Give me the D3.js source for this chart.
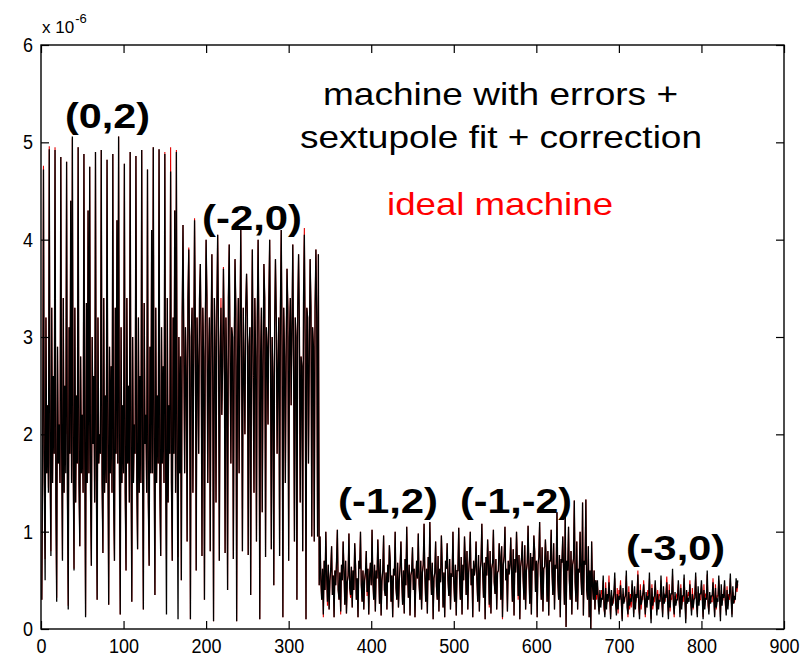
<!DOCTYPE html>
<html>
<head>
<meta charset="utf-8">
<script src="https://cdnjs.cloudflare.com/ajax/libs/d3/7.8.5/d3.min.js"></script>
<style>
  body { margin: 0; background: #fff; }
  text { font-family: "Liberation Sans", Arial, sans-serif; }
</style>
</head>
<body>
<script>
// values in units of 1e-6, one per element (x = element index 1..N)
// machine with errors + sextupole fit + correction
var errA = [
  0.3,1.8,4.72,1.5,0.5,3.2,1.6,
  2.3,1.4,4.93,1.7,0.75,3.3,1.5,
  2.6,1.8,4.92,1.3,0.28,2.9,1.7,
  2.1,1.5,4.85,1.9,0.7,3.4,1.4,
  2.5,1.6,4.8,1.4,0.2,3.1,1.8,
  4.4,1.5,5.06,1.7,0.6,3.3,1.3,
  2.4,1.7,4.95,1.5,0.85,2.8,1.6,
  2.2,1.4,4.88,1.8,0.12,3.35,1.5,
  4.3,1.6,4.75,1.4,0.65,3.0,1.9,
  2.6,1.3,4.9,1.6,0.3,3.2,1.7,
  2.0,1.8,4.92,1.5,0.78,3.4,1.4,
  2.4,1.5,4.82,1.9,0.25,2.9,1.6,
  2.7,1.4,4.88,1.3,0.7,3.3,1.8,
  4.2,1.7,5.06,1.6,0.15,3.1,1.5,
  2.3,1.6,4.78,1.4,0.6,3.4,1.7,
  2.5,1.3,4.9,1.8,0.28,3.0,1.5,
  2.1,1.8,4.86,1.5,0.82,3.2,1.4,
  2.6,1.5,4.92,1.7,0.2,3.35,1.9,
  2.2,1.4,4.72,1.3,0.65,2.9,1.6,
  4.1,1.6,4.95,1.8,0.35,3.3,1.5,
  2.4,1.7,4.93,1.4,0.75,3.1,1.7,
  2.7,1.5,4.88,1.6,0.15,3.4,1.3,
  2.3,1.8,4.7,1.5,0.7,3.2,1.8,
  4.3,1.4,4.9,1.7,0.1,3.0,1.6
];
var errB = [
  2.8,0.5,3.2,4.15,2.9,1.6,3.1,
  2.6,0.9,3.4,3.9,2.7,0.1,3.0,
  3.3,1.4,2.8,4.2,3.1,0.6,3.2,
  2.7,1.8,3.4,3.75,2.9,0.75,3.3,
  2.8,0.3,3.1,4.0,3.4,1.5,2.7,
  3.2,0.8,3.0,3.85,2.6,0.08,3.4,
  2.9,1.3,3.3,4.05,3.1,0.7,2.8,
  3.3,2.2,2.7,3.7,3.0,0.78,3.2,
  2.6,0.4,3.4,3.95,2.9,1.7,3.1,
  3.0,0.72,2.8,3.8,3.3,0.08,2.7,
  3.4,1.6,3.1,4.1,2.8,0.8,3.3,
  2.7,2.0,3.3,3.65,3.2,0.76,2.9,
  3.1,0.35,2.9,3.9,2.6,1.4,3.4,
  2.8,0.9,3.2,4.0,3.0,0.1,2.8,
  3.3,1.2,2.7,3.75,3.4,0.74,3.1,
  2.9,2.1,3.4,4.0,2.8,0.82,3.0,
  2.6,0.45,3.1,3.8,3.2,1.8,2.7,
  3.2,0.75,3.3,4.1,2.9,0.12,3.3,
  2.8,1.5,2.9,3.7,3.3,0.7,3.0,
  3.4,2.3,3.1,3.95,2.7,0.9,3.2,
  3.0,0.3,3.3,3.85,3.1,1.3,2.8,
  2.7,0.8,3.4,4.05,2.9,0.1,3.3,
  3.2,1.7,2.8,3.8,3.3,0.95,3.1,
  2.9,0.9,3.3,3.9,3.2,0.95,3.85
];
var errC = [
  0.45,0.95,0.5,0.3,0.62,0.15,0.7,
  0.4,1.0,0.55,0.28,0.66,0.2,0.5,
  0.62,0.85,0.35,0.55,0.12,0.6,0.45,
  0.7,1.02,0.4,0.3,0.58,0.18,0.66,
  0.5,0.9,0.6,0.25,0.7,0.16,0.48,
  0.55,0.98,0.42,0.35,0.64,0.22,0.6,
  0.4,0.88,0.66,0.3,0.52,0.12,0.7,
  0.62,1.0,0.45,0.28,0.6,0.2,0.5,
  0.58,0.8,0.38,0.62,0.15,0.55,0.68,
  0.45,1.02,0.5,0.3,0.66,0.18,0.6,
  0.52,0.92,0.62,0.26,0.72,0.14,0.5,
  0.6,0.96,0.4,0.34,0.58,0.2,0.66,
  0.48,0.86,0.7,0.28,0.55,0.12,0.62,
  0.55,1.0,0.42,0.3,0.68,0.22,0.5,
  0.65,0.9,0.5,0.25,0.6,0.16,0.72,
  0.45,1.05,0.58,0.32,0.66,0.14,0.55,
  0.6,0.84,0.4,0.62,0.12,0.5,0.7,
  0.52,0.98,0.46,0.3,0.7,0.2,0.58,
  0.66,1.08,0.55,0.28,0.62,0.16,0.74,
  0.5,1.1,0.6,0.35,0.68,0.1,0.52,
  0.58,0.9,0.44,0.3,0.75,0.18,0.62,
  0.48,0.96,0.66,0.22,0.58,0.12,0.7,
  0.62,0.88,0.5,0.34,0.72,0.2,0.56,
  0.55,1.0,0.48,0.28,0.66,0.14,0.6
];
var errD = [
  0.6,1.04,0.52,0.3,0.74,0.15,0.66,
  0.5,0.95,0.7,0.35,0.8,0.2,0.58,
  0.72,1.0,0.45,0.62,0.12,0.7,0.55,
  0.64,0.9,0.5,0.28,0.76,0.18,0.6,
  0.7,1.08,0.58,0.32,0.68,0.1,0.74,
  0.55,0.92,0.66,0.25,0.8,0.16,0.62,
  0.68,1.02,0.48,0.36,0.72,0.2,0.58,
  0.6,0.88,0.74,0.3,0.85,0.12,0.66,
  0.75,1.05,0.5,0.62,0.18,0.7,0.56,
  0.66,0.94,0.58,0.28,0.82,0.14,0.72,
  0.58,1.0,0.7,0.34,0.76,0.1,0.64,
  0.72,0.9,0.52,0.3,0.86,0.2,0.6,
  0.68,1.06,0.62,0.26,0.78,0.15,0.74,
  0.6,0.96,0.8,0.38,0.7,0.12,0.66,
  0.74,1.1,0.55,0.3,0.84,0.18,0.62,
  0.64,0.92,0.7,0.28,0.8,0.14,0.7,
  0.7,1.02,0.58,0.35,0.88,0.2,0.66,
  0.62,1.2,0.5,0.3,0.76,0.12,0.72,
  0.68,0.95,0.6,0.25,1.22,0.02,0.7,
  0.6,1.05,0.5,0.3,0.8,0.15,0.66,
  0.72,1.32,0.48,0.28,0.9,0.2,0.62,
  0.58,1.0,0.55,0.35,1.3,0.14,0.7,
  0.66,1.33,0.4,0.3,0.85,0.12,0.6,
  0.0,0.9,0.45,0.3,0.6,0.2,0.5
];
var errE = [
  0.35,0.5,0.28,0.15,0.4,0.22,0.32,
  0.3,0.55,0.25,0.12,0.42,0.2,0.36,
  0.28,0.48,0.34,0.1,0.4,0.24,0.3,
  0.38,0.58,0.26,0.14,0.36,0.2,0.34,
  0.3,0.45,0.3,0.08,0.42,0.26,0.32,
  0.34,0.6,0.22,0.15,0.38,0.24,0.3,
  0.28,0.5,0.33,0.12,0.44,0.2,0.36,
  0.32,0.56,0.28,0.1,0.4,0.25,0.3,
  0.36,0.46,0.3,0.15,0.38,0.22,0.34,
  0.3,0.58,0.26,0.06,0.42,0.24,0.32,
  0.34,0.5,0.3,0.14,0.36,0.2,0.3,
  0.28,0.55,0.32,0.12,0.44,0.26,0.34,
  0.32,0.48,0.28,0.1,0.4,0.22,0.36,
  0.36,0.62,0.25,0.15,0.38,0.24,0.3,
  0.3,0.5,0.33,0.12,0.42,0.2,0.34,
  0.34,0.56,0.28,0.06,0.4,0.26,0.32,
  0.28,0.46,0.3,0.14,0.36,0.22,0.3,
  0.32,0.58,0.26,0.12,0.44,0.24,0.36,
  0.36,0.5,0.32,0.1,0.4,0.2,0.32,
  0.3,0.6,0.28,0.15,0.38,0.26,0.34,
  0.34,0.48,0.3,0.12,0.42,0.22,0.3,
  0.28,0.55,0.34,0.08,0.46,0.24,0.36,
  0.32,0.5,0.28,0.14,0.4,0.2,0.32,
  0.36,0.57,0.3,0.12,0.44,0.26,0.34,
  0.3,0.52,0.42,0.5
];

// ideal machine
var idealA = [
  0.3,1.8,4.76,1.5,0.72,3.2,1.6,
  2.3,1.45,4.96,1.7,0.8,3.3,1.5,
  2.6,1.8,4.95,1.3,0.32,2.9,1.7,
  2.1,1.5,4.85,1.9,0.72,3.4,1.4,
  2.5,2.0,4.8,1.4,0.24,3.1,1.8,
  4.4,1.5,5.04,1.7,0.62,3.3,1.3,
  2.4,1.7,4.95,1.5,0.85,2.8,1.6,
  2.2,1.4,4.88,1.8,0.14,3.35,1.5,
  4.3,1.6,4.75,1.4,0.65,3.0,1.9,
  2.6,1.3,4.9,1.6,0.3,3.2,1.7,
  2.0,1.8,4.92,1.5,0.78,3.4,1.4,
  2.4,1.5,4.82,1.9,0.25,2.9,1.6,
  2.7,1.4,4.88,1.3,0.7,3.3,1.8,
  4.2,1.7,5.06,1.6,0.15,3.1,1.5,
  2.3,1.6,4.78,1.4,0.6,3.4,1.7,
  2.5,1.3,4.9,1.8,0.28,3.0,1.5,
  2.1,1.8,4.86,1.5,0.82,3.2,1.4,
  2.6,1.5,4.92,1.7,0.2,3.35,1.9,
  2.2,1.4,4.72,1.3,0.65,2.9,1.6,
  4.1,1.6,4.95,1.8,0.35,3.3,1.5,
  2.4,1.7,4.93,1.4,0.75,3.1,1.7,
  2.7,1.5,4.9,1.6,0.72,3.4,1.3,
  2.3,1.8,4.95,1.5,0.7,3.2,1.8,
  4.3,1.4,4.92,1.7,0.74,3.0,1.6
];
var idealB = [
  2.8,0.5,3.2,4.15,2.9,1.6,3.1,
  2.6,0.9,3.4,3.92,2.7,0.1,3.0,
  3.3,1.4,2.8,4.22,3.1,0.6,3.2,
  2.7,1.8,3.4,3.75,2.9,0.75,3.3,
  2.8,0.3,3.1,4.0,3.4,1.5,2.7,
  3.2,0.8,3.0,3.85,2.6,0.08,3.4,
  2.9,1.3,3.3,4.05,3.1,0.7,2.8,
  3.4,2.2,2.7,3.72,3.0,0.78,3.2,
  2.6,0.4,3.4,3.95,2.9,1.7,3.1,
  3.0,0.72,2.8,3.8,3.3,0.08,2.7,
  3.4,1.6,3.1,4.1,2.8,0.8,3.3,
  2.7,2.0,3.3,3.65,3.2,0.76,2.9,
  3.1,0.35,2.9,3.9,2.6,1.4,3.4,
  2.8,0.9,3.2,4.0,3.0,0.1,2.8,
  3.3,1.2,2.7,3.75,3.4,0.74,3.1,
  2.9,2.1,3.4,4.0,2.8,0.82,3.0,
  2.6,0.45,3.1,3.8,3.2,1.8,2.7,
  3.2,0.75,3.3,4.1,2.9,0.12,3.3,
  2.8,1.5,2.9,3.7,3.3,0.7,3.0,
  3.4,2.3,3.1,3.95,2.7,0.9,3.2,
  3.0,0.3,3.3,3.85,3.1,1.3,2.8,
  2.7,0.8,3.4,4.12,2.9,0.1,3.3,
  3.2,1.7,2.8,3.8,3.3,0.95,3.1,
  2.9,0.9,3.3,3.9,3.2,0.95,3.85
];
var idealC = [
  0.45,0.95,0.5,0.3,0.62,0.12,0.7,
  0.4,1.0,0.55,0.24,0.66,0.2,0.5,
  0.62,0.85,0.35,0.55,0.12,0.6,0.45,
  0.7,1.02,0.4,0.3,0.58,0.15,0.66,
  0.5,0.9,0.6,0.25,0.7,0.16,0.48,
  0.55,0.98,0.42,0.32,0.64,0.22,0.6,
  0.4,0.88,0.66,0.3,0.52,0.12,0.7,
  0.62,1.0,0.45,0.28,0.6,0.2,0.5,
  0.58,0.8,0.34,0.62,0.15,0.55,0.68,
  0.45,1.02,0.5,0.3,0.66,0.18,0.6,
  0.52,0.92,0.62,0.26,0.72,0.14,0.5,
  0.6,0.96,0.4,0.34,0.58,0.2,0.66,
  0.48,0.86,0.7,0.28,0.55,0.12,0.62,
  0.55,1.0,0.42,0.3,0.68,0.22,0.5,
  0.65,0.9,0.5,0.25,0.6,0.16,0.72,
  0.45,1.05,0.58,0.32,0.66,0.14,0.55,
  0.6,0.84,0.4,0.62,0.12,0.5,0.7,
  0.52,0.98,0.46,0.3,0.7,0.2,0.58,
  0.66,1.08,0.55,0.28,0.62,0.16,0.74,
  0.5,1.1,0.6,0.35,0.68,0.1,0.52,
  0.58,0.9,0.44,0.3,0.75,0.18,0.62,
  0.48,0.96,0.66,0.22,0.58,0.12,0.7,
  0.62,0.88,0.5,0.34,0.72,0.2,0.56,
  0.55,1.0,0.48,0.28,0.66,0.14,0.6
];
var idealD = [
  0.6,1.04,0.52,0.3,0.74,0.15,0.66,
  0.5,0.95,0.7,0.35,0.8,0.2,0.58,
  0.72,1.0,0.45,0.62,0.12,0.7,0.55,
  0.64,0.9,0.5,0.28,0.76,0.18,0.6,
  0.7,1.08,0.58,0.32,0.68,0.1,0.74,
  0.55,0.92,0.66,0.22,0.8,0.16,0.62,
  0.68,1.02,0.48,0.36,0.72,0.2,0.58,
  0.6,0.88,0.74,0.3,0.85,0.1,0.66,
  0.75,1.05,0.5,0.62,0.18,0.7,0.56,
  0.66,0.94,0.58,0.28,0.82,0.14,0.72,
  0.58,1.0,0.7,0.3,0.76,0.1,0.64,
  0.72,0.9,0.52,0.3,0.86,0.2,0.6,
  0.68,1.06,0.62,0.26,0.78,0.15,0.74,
  0.6,0.96,0.8,0.38,0.7,0.12,0.66,
  0.74,1.1,0.55,0.3,0.84,0.18,0.62,
  0.64,0.92,0.7,0.28,0.8,0.14,0.7,
  0.7,1.02,0.58,0.35,0.88,0.2,0.66,
  0.62,1.2,0.5,0.3,0.76,0.12,0.72,
  0.68,0.95,0.6,0.25,1.22,0.02,0.7,
  0.6,1.05,0.5,0.3,0.8,0.15,0.66,
  0.72,1.32,0.48,0.28,0.9,0.2,0.62,
  0.58,1.0,0.55,0.35,1.3,0.14,0.7,
  0.66,1.33,0.4,0.3,0.85,0.12,0.6,
  0.0,0.9,0.45,0.3,0.6,0.2,0.5
];
var idealE = [
  0.3,0.45,0.35,0.18,0.36,0.28,0.4,
  0.36,0.5,0.2,0.15,0.48,0.25,0.3,
  0.34,0.55,0.28,0.12,0.35,0.3,0.26,
  0.32,0.52,0.3,0.18,0.42,0.16,0.4,
  0.36,0.5,0.24,0.1,0.36,0.3,0.28,
  0.4,0.55,0.28,0.12,0.44,0.2,0.36,
  0.22,0.46,0.38,0.16,0.38,0.26,0.3,
  0.38,0.6,0.22,0.14,0.46,0.2,0.34,
  0.3,0.5,0.36,0.12,0.32,0.28,0.4,
  0.36,0.52,0.3,0.1,0.46,0.2,0.28,
  0.28,0.46,0.36,0.18,0.4,0.26,0.36,
  0.34,0.5,0.26,0.15,0.38,0.3,0.28,
  0.38,0.54,0.34,0.14,0.46,0.18,0.32,
  0.3,0.56,0.3,0.12,0.34,0.28,0.36,
  0.36,0.46,0.28,0.16,0.46,0.24,0.3,
  0.28,0.52,0.34,0.1,0.36,0.3,0.38,
  0.34,0.5,0.26,0.18,0.42,0.2,0.34,
  0.38,0.54,0.3,0.15,0.38,0.28,0.3,
  0.3,0.46,0.36,0.12,0.46,0.24,0.36,
  0.36,0.56,0.24,0.18,0.34,0.3,0.28,
  0.28,0.52,0.34,0.14,0.46,0.2,0.34,
  0.34,0.5,0.3,0.12,0.4,0.28,0.3,
  0.38,0.46,0.24,0.18,0.44,0.24,0.36,
  0.3,0.52,0.34,0.15,0.38,0.3,0.28,
  0.34,0.48,0.38,0.46
];

var xTicks = [0, 100, 200, 300, 400, 500, 600, 700, 800, 900];
var yTicks = [0, 1, 2, 3, 4, 5, 6];
var familyLabels = ["(0,2)", "(-2,0)", "(-1,2)", "(-1,-2)", "(-3,0)"];
var legendLines = ["machine with errors +", "sextupole fit + correction", "ideal machine"];

var errors = errA.concat(errB, errC, errD, errE);
var ideal = idealA.concat(idealB, idealC, idealD, idealE);

// plot box
var W = 811, H = 658;
var box = {left: 41, right: 784, top: 45, bottom: 629};

var svg = d3.select("body").append("svg")
    .attr("width", W)
    .attr("height", H)
    .style("background", "#fff");

var x = d3.scaleLinear().domain([0, 900]).range([box.left, box.right]);
var y = d3.scaleLinear().domain([0, 6]).range([box.bottom, box.top]);

// curves, red first so black sits on top
var line = d3.line()
    .x(function(d, i) { return x(i + 1); })
    .y(function(d) { return y(d); });

svg.append("path")
    .datum(ideal)
    .attr("d", line)
    .attr("fill", "none")
    .attr("stroke", "#e00000")
    .attr("stroke-width", 1.1);

svg.append("path")
    .datum(errors)
    .attr("d", line)
    .attr("fill", "none")
    .attr("stroke", "#000")
    .attr("stroke-width", 1.3);

// axes, matlab style: ticks inward on all four sides
var fmt = d3.format("d");

function tickText(sel) {
    sel.selectAll(".domain").remove();
    sel.selectAll("line").attr("stroke", "#000").attr("stroke-width", 1.2);
    sel.selectAll("text")
        .attr("font-size", 20)
        .attr("fill", "#000")
        .attr("textLength", function(d) { return fmt(d).length * 10; })
        .attr("lengthAdjust", "spacingAndGlyphs");
}

svg.append("g")
    .attr("transform", "translate(0," + box.bottom + ")")
    .call(d3.axisBottom(x).tickValues(xTicks).tickSize(-8).tickPadding(10).tickFormat(fmt))
    .call(tickText);

svg.append("g")
    .attr("transform", "translate(0," + box.top + ")")
    .call(d3.axisTop(x).tickValues(xTicks).tickSize(-8).tickFormat(""))
    .call(tickText);

svg.append("g")
    .attr("transform", "translate(" + box.left + ",0)")
    .call(d3.axisLeft(y).tickValues(yTicks).tickSize(-8).tickPadding(8).tickFormat(fmt))
    .call(tickText);

svg.append("g")
    .attr("transform", "translate(" + box.right + ",0)")
    .call(d3.axisRight(y).tickValues(yTicks).tickSize(-8).tickFormat(""))
    .call(tickText);

svg.append("rect")
    .attr("x", box.left)
    .attr("y", box.top)
    .attr("width", box.right - box.left)
    .attr("height", box.bottom - box.top)
    .attr("fill", "none")
    .attr("stroke", "#000")
    .attr("stroke-width", 1.4);

// exponent label
var expo = svg.append("text")
    .attr("x", 42)
    .attr("y", 33)
    .attr("font-size", 17);
expo.append("tspan").text("x 10");
expo.append("tspan")
    .attr("dy", -10)
    .attr("dx", 1)
    .attr("font-size", 13)
    .text("-6");

// legend text
var legendPos = [
    {x: 323, y: 105, w: 355, color: "#000"},
    {x: 300, y: 148, w: 402, color: "#000"},
    {x: 387, y: 215, w: 226, color: "#ff0000"}
];
svg.selectAll(".legend")
    .data(legendLines)
    .enter().append("text")
    .attr("class", "legend")
    .attr("x", function(d, i) { return legendPos[i].x; })
    .attr("y", function(d, i) { return legendPos[i].y; })
    .attr("font-size", 32)
    .attr("fill", function(d, i) { return legendPos[i].color; })
    .attr("textLength", function(d, i) { return legendPos[i].w; })
    .attr("lengthAdjust", "spacingAndGlyphs")
    .text(function(d) { return d; });

// resonance family labels
var labelPos = [
    {x: 65, y: 128, w: 85},
    {x: 202, y: 230, w: 100},
    {x: 338, y: 513, w: 100},
    {x: 460, y: 513, w: 112},
    {x: 626, y: 560, w: 99}
];
svg.selectAll(".family")
    .data(familyLabels)
    .enter().append("text")
    .attr("class", "family")
    .attr("x", function(d, i) { return labelPos[i].x; })
    .attr("y", function(d, i) { return labelPos[i].y; })
    .attr("font-size", 35)
    .attr("font-weight", "bold")
    .attr("textLength", function(d, i) { return labelPos[i].w; })
    .attr("lengthAdjust", "spacingAndGlyphs")
    .text(function(d) { return d; });
</script>
</body>
</html>
